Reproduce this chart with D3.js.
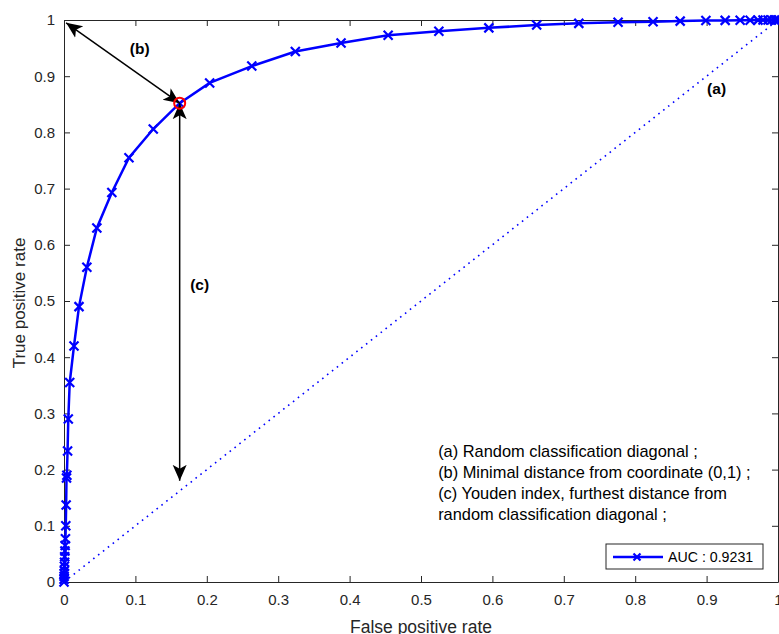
<!DOCTYPE html>
<html>
<head>
<meta charset="utf-8">
<script src="https://cdn.jsdelivr.net/npm/d3@7"></script>
<style>
  body { margin: 0; background: #fff; }
  svg { display: block; font-family: "Liberation Sans", Arial, sans-serif; }
</style>
</head>
<body>
<svg id="chart" width="779" height="634"></svg>
<script>
// ROC curve points
var fpr = [0, 0.0001, 0.0002, 0.0003, 0.0004, 0.0006, 0.0008, 0.001, 0.0013, 0.0016, 0.002, 0.0025, 0.003, 0.0035, 0.004, 0.005, 0.006,
           0.008, 0.014, 0.021, 0.032, 0.046, 0.067, 0.091, 0.125, 0.162, 0.204, 0.263, 0.324, 0.388, 0.454, 0.525, 0.595, 0.662, 0.721,
           0.776, 0.825, 0.863, 0.899, 0.926, 0.947, 0.961, 0.972, 0.979, 0.986, 0.991, 0.995, 0.998, 1];
var tpr = [0, 0.005, 0.01, 0.015, 0.02, 0.028, 0.035, 0.045, 0.055, 0.065, 0.077, 0.1, 0.137, 0.185, 0.19, 0.233, 0.29,
           0.355, 0.42, 0.49, 0.56, 0.63, 0.693, 0.755, 0.806, 0.852, 0.888, 0.918, 0.944, 0.959, 0.973, 0.980, 0.986, 0.991, 0.994,
           0.996, 0.997, 0.998, 0.999, 0.9993, 0.9995, 0.9997, 0.9998, 0.9999, 1, 1, 1, 1, 1];

var xTicks = [0, 0.1, 0.2, 0.3, 0.4, 0.5, 0.6, 0.7, 0.8, 0.9, 1];
var yTicks = [0, 0.1, 0.2, 0.3, 0.4, 0.5, 0.6, 0.7, 0.8, 0.9, 1];

var optimal = { x: 0.162, y: 0.852 };
var youdenEnd = { x: 0.162, y: 0.18 };
var topLeft = { x: 0.003, y: 0.995 };

var notes = [
    "(a) Random classification diagonal ;",
    "(b) Minimal distance from coordinate (0,1) ;",
    "(c) Youden index, furthest distance from",
    "random classification diagonal ;"
];
var aucLabel = "AUC : 0.9231";

var margin = { top: 20, left: 64 },
    width = 714,
    height = 562,
    axisColor = "#262626";

var svg = d3.select("#chart");
var g = svg.append("g").attr("transform", "translate(" + margin.left + "," + margin.top + ")");

var x = d3.scaleLinear().domain([0, 1]).range([0, width]);
var y = d3.scaleLinear().domain([0, 1]).range([height, 0]);

var fmt = function(d) { return (d === 0 || d === 1) ? String(d) : d.toFixed(1); };

// box + ticks on all four sides (ticks point inwards)
function styleAxis(sel) {
    sel.select(".domain").attr("stroke", axisColor);
    sel.selectAll(".tick line").attr("stroke", axisColor);
    sel.selectAll(".tick text").attr("fill", axisColor).style("font-size", "15px");
}

g.append("g").attr("transform", "translate(0," + height + ")")
    .call(d3.axisBottom(x).tickValues(xTicks).tickFormat(fmt).tickSizeInner(-6).tickSizeOuter(0).tickPadding(12))
    .call(styleAxis);
g.append("g")
    .call(d3.axisLeft(y).tickValues(yTicks).tickFormat(fmt).tickSizeInner(-6).tickSizeOuter(0).tickPadding(9))
    .call(styleAxis);
g.append("g")
    .call(d3.axisTop(x).tickValues(xTicks).tickFormat("").tickSizeInner(-6).tickSizeOuter(0))
    .call(styleAxis);
g.append("g").attr("transform", "translate(" + width + ",0)")
    .call(d3.axisRight(y).tickValues(yTicks).tickFormat("").tickSizeInner(-6).tickSizeOuter(0))
    .call(styleAxis);

// axis titles
svg.append("text")
    .attr("x", margin.left + width / 2).attr("y", 633)
    .attr("text-anchor", "middle").attr("fill", axisColor)
    .style("font-size", "17.5px").text("False positive rate");
svg.append("text")
    .attr("transform", "translate(25," + (margin.top + height / 2 + 2) + ") rotate(-90)")
    .attr("text-anchor", "middle").attr("fill", axisColor)
    .style("font-size", "17px").text("True positive rate");

// random classification diagonal
g.append("path")
    .datum([[0, 0], [1, 1]])
    .attr("d", d3.line().x(d => x(d[0])).y(d => y(d[1])))
    .attr("fill", "none").attr("stroke", "#0000ff")
    .attr("stroke-width", 1.6).attr("stroke-dasharray", "1.6,4.6");

// ROC curve
var pts = fpr.map((f, i) => [f, tpr[i]]);
g.append("path")
    .datum(pts)
    .attr("d", d3.line().x(d => x(d[0])).y(d => y(d[1])))
    .attr("fill", "none").attr("stroke", "#0000ff").attr("stroke-width", 2.5);

var cross = "M-4.5,-4.5L4.5,4.5M-4.5,4.5L4.5,-4.5";
g.selectAll(".mark")
    .data(pts)
    .enter().append("path")
    .attr("class", "mark")
    .attr("transform", d => "translate(" + x(d[0]) + "," + y(d[1]) + ")")
    .attr("d", cross)
    .attr("stroke", "#0000ff").attr("stroke-width", 2.2);

// arrows
var defs = svg.append("defs");
defs.append("marker")
    .attr("id", "head")
    .attr("viewBox", "0 -8 16 16")
    .attr("refX", 16).attr("refY", 0)
    .attr("markerWidth", 16).attr("markerHeight", 16)
    .attr("markerUnits", "userSpaceOnUse")
    .attr("orient", "auto-start-reverse")
    .append("path")
    .attr("d", "M0,-7L16,0L0,7L4,0Z")
    .attr("fill", "#000");

function arrow(a, b) {
    g.append("line")
        .attr("x1", x(a.x)).attr("y1", y(a.y))
        .attr("x2", x(b.x)).attr("y2", y(b.y))
        .attr("stroke", "#000").attr("stroke-width", 1.5)
        .attr("marker-start", "url(#head)")
        .attr("marker-end", "url(#head)");
}
arrow(topLeft, optimal);
arrow(youdenEnd, optimal);

// optimal operating point
g.append("circle")
    .attr("cx", x(optimal.x)).attr("cy", y(optimal.y))
    .attr("r", 5.5)
    .attr("fill", "none").attr("stroke", "#ff0000").attr("stroke-width", 2);

// bold labels
var labels = [
    { t: "(a)", x: 0.914, y: 0.878 },
    { t: "(b)", x: 0.106, y: 0.95 },
    { t: "(c)", x: 0.190, y: 0.529 }
];
g.selectAll(".lab")
    .data(labels)
    .enter().append("text")
    .attr("x", d => x(d.x)).attr("y", d => y(d.y))
    .attr("text-anchor", "middle").attr("dy", "0.35em")
    .style("font-size", "15.5px").style("font-weight", "bold")
    .attr("fill", "#000")
    .text(d => d.t);

// explanation text
g.selectAll(".note")
    .data(notes)
    .enter().append("text")
    .attr("x", x(0.524))
    .attr("y", (d, i) => y(0.232) + i * 21)
    .attr("dy", "0.35em")
    .style("font-size", "16.4px")
    .attr("fill", "#000")
    .text(d => d);

// legend
var leg = svg.append("g").attr("transform", "translate(606,544)");
leg.append("rect")
    .attr("width", 157).attr("height", 25)
    .attr("fill", "#fff").attr("stroke", axisColor).attr("stroke-width", 1);
leg.append("line")
    .attr("x1", 7).attr("x2", 57).attr("y1", 13).attr("y2", 13)
    .attr("stroke", "#0000ff").attr("stroke-width", 2.5);
leg.append("path")
    .attr("transform", "translate(31,13)")
    .attr("d", "M-3.5,-3.5L3.5,3.5M-3.5,3.5L3.5,-3.5")
    .attr("stroke", "#0000ff").attr("stroke-width", 2.2);
leg.append("text")
    .attr("x", 62).attr("y", 13).attr("dy", "0.35em")
    .style("font-size", "14.2px").attr("fill", "#000")
    .text(aucLabel);
</script>
</body>
</html>
